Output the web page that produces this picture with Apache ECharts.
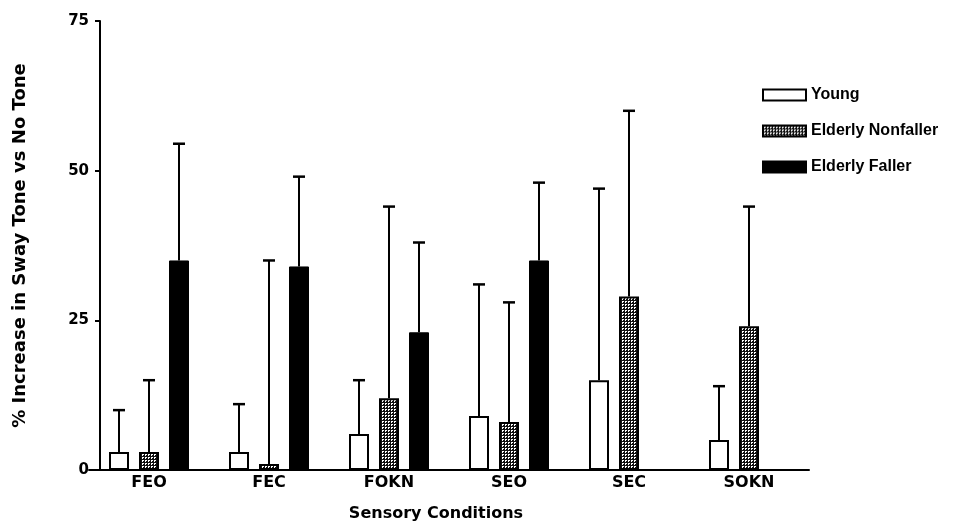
<!DOCTYPE html>
<html>
<head>
<meta charset="utf-8">
<script src="https://cdn.jsdelivr.net/npm/echarts@6/dist/echarts.min.js"></script>
<style>
html,body{margin:0;padding:0;background:#fff;}
#chart{width:969px;height:527px;}
</style>
</head>
<body>
<div id="chart"></div>
<script>
// ---- data ----
var categories = ['FEO', 'FEC', 'FOKN', 'SEO', 'SEC', 'SOKN'];
var seriesNames = ['Young', 'Elderly Nonfaller', 'Elderly Faller'];
var youngValues = [3, 3, 6, 9, 15, 5];
var youngErrTop = [10, 11, 15, 31, 47, 14];
var nonfallerValues = [3, 1, 12, 8, 29, 24];
var nonfallerErrTop = [15, 35, 44, 28, 60, 44];
var fallerValues = [35, 34, 23, 35, null, null];
var fallerErrTop = [54.5, 49, 38, 48, null, null];
var yTicks = [0, 25, 50, 75];

// ---- pattern for nonfaller ----
function makePattern() {
  var c = document.createElement('canvas');
  c.width = 3; c.height = 3;
  var ctx = c.getContext('2d');
  ctx.fillStyle = '#111';
  ctx.fillRect(0, 0, 3, 3);
  ctx.fillStyle = '#fff';
  ctx.fillRect(1, 1, 2, 1);
  ctx.fillRect(1, 2, 1, 1);
  return c;
}
var pattern = { image: makePattern(), repeat: 'repeat' };

var chart = echarts.init(document.getElementById('chart'), null, { renderer: 'canvas' });
var FONT = '"Liberation Sans", Arial, sans-serif';
var WIDE = '"DejaVu Sans", "Liberation Sans", sans-serif';

function errSeries(values, tops, offset) {
  var data = [];
  for (var i = 0; i < values.length; i++) {
    if (values[i] != null && tops[i] != null) data.push([i, values[i], tops[i]]);
  }
  return {
    type: 'custom',
    data: data,
    z: 5,
    silent: true,
    encode: { x: 0, y: [1, 2] },
    renderItem: function (params, api) {
      var lo = api.coord([api.value(0), api.value(1)]);
      var hi = api.coord([api.value(0), api.value(2)]);
      var x = lo[0] + offset;
      return {
        type: 'group',
        children: [
          { type: 'line', shape: { x1: x, y1: lo[1], x2: x, y2: hi[1] }, style: { stroke: '#000', lineWidth: 2 } },
          { type: 'line', shape: { x1: x - 6, y1: hi[1], x2: x + 6, y2: hi[1] }, style: { stroke: '#000', lineWidth: 2.5 } }
        ]
      };
    }
  };
}

var option = {
  backgroundColor: '#fff',
  animation: false,
  grid: { left: 89, width: 720, top: 21, height: 450 },
  legend: {
    orient: 'vertical',
    left: 757,
    top: 82,
    icon: 'rect',
    itemWidth: 43,
    itemHeight: 11,
    itemGap: 20,
    data: seriesNames,
    textStyle: { fontFamily: FONT, fontWeight: 'bold', fontSize: 16, color: '#000' }
  },
  xAxis: {
    type: 'category',
    data: categories,
    axisTick: { show: false },
    axisLine: { lineStyle: { color: '#000', width: 2 } },
    axisLabel: { fontFamily: WIDE, fontWeight: 'bold', fontSize: 16, color: '#000', margin: 5 },
    name: 'Sensory Conditions',
    nameLocation: 'middle',
    nameGap: 36,
    nameTextStyle: { fontFamily: WIDE, fontWeight: 'bold', fontSize: 16, color: '#000', padding: [0, 26, 0, 0] }
  },
  yAxis: {
    type: 'value',
    min: yTicks[0],
    max: yTicks[yTicks.length - 1],
    interval: 25,
    offset: -11,
    splitLine: { show: false },
    axisLine: { show: true, lineStyle: { color: '#000', width: 2 } },
    axisTick: { show: true, length: 5, lineStyle: { color: '#000', width: 2 } },
    axisLabel: { fontFamily: WIDE, fontWeight: 'bold', fontSize: 15, color: '#000', margin: 11 },
    name: '% Increase in Sway Tone vs No Tone',
    nameLocation: 'middle',
    nameGap: 71,
    nameTextStyle: { fontFamily: WIDE, fontWeight: 'bold', fontSize: 18, color: '#000' }
  },
  series: [
    {
      name: seriesNames[0], type: 'bar', data: youngValues, barWidth: 20, barGap: '50%',
      itemStyle: { color: '#fff', borderColor: '#000', borderWidth: 2 }
    },
    {
      name: seriesNames[1], type: 'bar', data: nonfallerValues, barWidth: 20, barGap: '50%',
      itemStyle: { color: pattern, borderColor: '#000', borderWidth: 2 }
    },
    {
      name: seriesNames[2], type: 'bar', data: fallerValues, barWidth: 20, barGap: '50%',
      itemStyle: { color: '#000', borderColor: '#000', borderWidth: 1 }
    },
    errSeries(youngValues, youngErrTop, -30),
    errSeries(nonfallerValues, nonfallerErrTop, 0),
    errSeries(fallerValues, fallerErrTop, 30)
  ]
};
chart.setOption(option);
</script>
</body>
</html>
